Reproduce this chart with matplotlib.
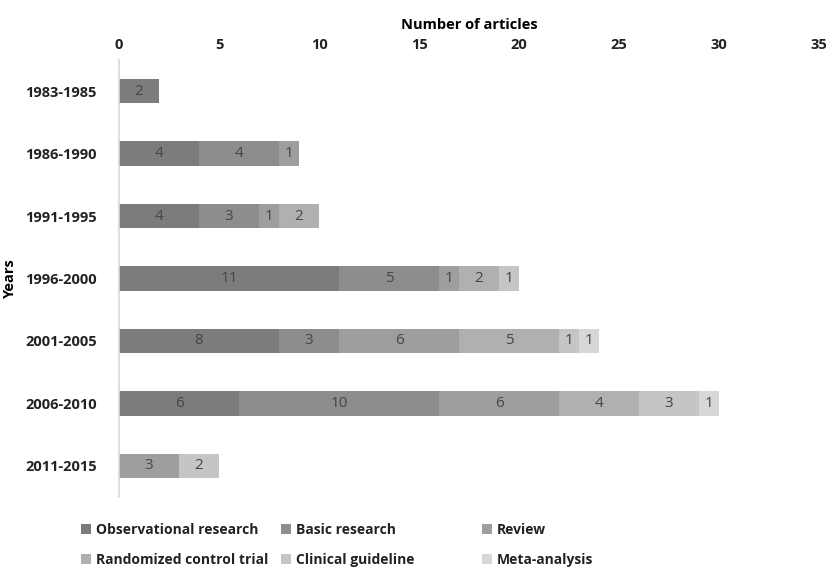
import matplotlib.pyplot as plt
import numpy as np

plt.rcParams['font.family'] = ['Open Sans', 'DejaVu Sans']

years = ['1983-1985', '1986-1990', '1991-1995', '1996-2000',
         '2001-2005', '2006-2010', '2011-2015']
categories = ['Observational research', 'Basic research', 'Review',
              'Randomized control trial', 'Clinical guideline', 'Meta-analysis']
observational = [2, 4, 4, 11, 8, 6, 0]
basic = [0, 4, 3, 5, 3, 10, 0]
review = [0, 1, 1, 1, 6, 6, 3]
rct = [0, 0, 2, 2, 5, 4, 0]
guideline = [0, 0, 0, 1, 1, 3, 2]
meta = [0, 0, 0, 0, 1, 1, 0]
series = [observational, basic, review, rct, guideline, meta]
colors = ['#7c7c7c', '#8d8d8d', '#9e9e9e', '#b0b0b0', '#c5c5c5', '#d7d7d7']

fig = plt.figure(figsize=(8.32, 5.70), dpi=100)
ax = fig.add_axes([119/832, 1-497/570, 700/832, 437/570])

y = np.arange(len(years))
left = np.zeros(len(years))
bars = []
for vals, col, name in zip(series, colors, categories):
    vals = np.array(vals)
    b = ax.barh(y, vals, left=left, height=0.39, color=col, label=name)
    bars.append(b)
    for yi, (l, v) in enumerate(zip(left, vals)):
        if v > 0:
            ax.text(l + v/2, yi, str(v), ha='center', va='center',
                    fontsize=11, color='#454545')
    left += vals

ax.set_xlim(0, 35)
ax.set_ylim(6.5, -0.5)
ax.set_yticks(y)
ax.set_yticklabels(years, fontsize=10.5, fontweight='bold', color='#222222')
ax.set_xticks(range(0, 36, 5))
ax.xaxis.tick_top()
ax.xaxis.set_label_position('top')
ax.tick_params(axis='x', length=0, labelsize=10.5, pad=6, labelcolor='#222222')
ax.tick_params(axis='y', length=0, pad=16)
for lab in ax.get_xticklabels():
    lab.set_fontweight('bold')
ax.set_xlabel('Number of articles', fontsize=10.5, fontweight='bold', labelpad=6)
ax.set_ylabel('Years', fontsize=10.5, fontweight='bold', labelpad=6)
for s in ['top', 'right', 'bottom']:
    ax.spines[s].set_visible(False)
ax.spines['left'].set_color('#d9d9d9')
ax.spines['left'].set_linewidth(1.2)

# legend: three columns placed at fixed x positions
col_x = [68/832, 268/832, 469/832]
for i, cx in enumerate(col_x):
    hs = [bars[i], bars[i + 3]]
    leg = fig.legend(hs, [categories[i], categories[i + 3]],
                     loc='upper left', bbox_to_anchor=(cx, 1-510/570),
                     frameon=False, handlelength=0.75, handleheight=0.75,
                     handletextpad=0.35, labelspacing=1.2,
                     prop={'weight': 'bold', 'size': 10})
    for t in leg.get_texts():
        t.set_color('#222222')

fig.savefig('out.png', dpi=100)
